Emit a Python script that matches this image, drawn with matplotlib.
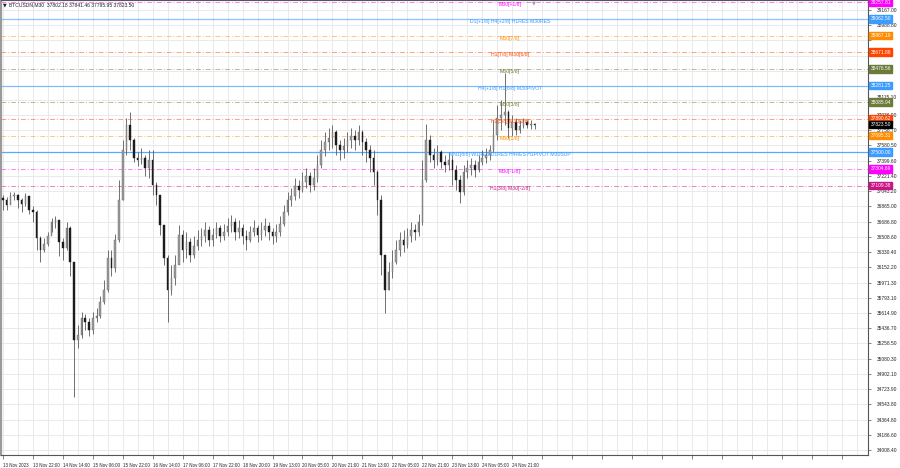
import matplotlib
matplotlib.use("Agg")
import matplotlib.pyplot as plt
import matplotlib.transforms as mtransforms
import numpy as np

plt.rcParams['font.family'] = ['Liberation Sans', 'DejaVu Sans']

# ---------------- data ----------------
header_text = "BTCUSDN,M30  37802.18 37841.46 37795.95 37823.50"

first_open = 36960.0
close = [36940, 36881, 36987, 36999, 36940, 36893, 36987, 36823, 36799, 36495,
         36354, 36424, 36518, 36682, 36706, 36448, 36377, 36612, 36213, 35299,
         35358, 35557, 35510, 35416, 35557, 35580, 35745, 35885, 36260, 36143,
         36471, 36940, 37526, 37819, 37643, 37432, 37409, 37432, 37315, 37409,
         37116, 36999, 36647, 36260, 35885, 36026, 36178, 36530, 36354, 36448,
         36295, 36401, 36471, 36518, 36588, 36471, 36530, 36612, 36518, 36565,
         36635, 36682, 36565, 36612, 36518, 36471, 36565, 36612, 36530, 36588,
         36635, 36565, 36518, 36565, 36659, 36799, 36940, 36987, 37104, 37057,
         37151, 37221, 37116, 37198, 37350, 37526, 37620, 37667, 37737, 37585,
         37526, 37573, 37643, 37690, 37643, 37737, 37620, 37526, 37432, 37268,
         36940, 36295, 35885, 36096, 36213, 36354, 36471, 36413, 36518, 36588,
         36565, 36682, 37174, 37643, 37467, 37409, 37503, 37385, 37350, 37409,
         37292, 37174, 37034, 37268, 37315, 37350, 37292, 37385, 37432, 37467,
         37526, 37702, 37901, 37936, 37971, 37784, 37854, 37760, 37807, 37854,
         37819, 37831, 37823.5]
high = [36999, 36975, 37034, 37034, 37010, 36963, 37022, 36987, 36870, 36823,
        36518, 36495, 36565, 36729, 36752, 36682, 36495, 36682, 36635, 36213,
        35475, 35627, 35604, 35557, 35627, 35674, 35815, 36002, 36354, 36354,
        36542, 37174, 37643, 37901, 37971, 37667, 37503, 37549, 37467, 37526,
        37526, 37151, 36999, 36647, 36295, 36178, 36295, 36647, 36588, 36565,
        36495, 36518, 36588, 36612, 36682, 36635, 36612, 36682, 36647, 36659,
        36729, 36764, 36729, 36706, 36659, 36588, 36635, 36706, 36647, 36682,
        36729, 36682, 36612, 36659, 36752, 36881, 37034, 37081, 37198, 37174,
        37268, 37315, 37268, 37315, 37467, 37643, 37737, 37784, 37819, 37760,
        37643, 37667, 37737, 37784, 37760, 37819, 37760, 37667, 37585, 37526,
        37292, 36999, 36295, 36213, 36354, 36471, 36565, 36588, 36612, 36682,
        36659, 36776, 37409, 37831, 37702, 37549, 37585, 37526, 37467, 37503,
        37467, 37350, 37233, 37350, 37409, 37432, 37409, 37467, 37526, 37549,
        37585, 37878, 38053, 38112, 38428, 37995, 37936, 37901, 37878, 37901,
        37878, 37878, 37842]
low = [36823, 36823, 36917, 36940, 36846, 36799, 36870, 36776, 36682, 36354,
       36213, 36331, 36401, 36565, 36612, 36284, 36237, 36354, 36049, 34631,
       35205, 35323, 35416, 35346, 35370, 35510, 35557, 35721, 35862, 36049,
       36096, 36448, 36940, 37467, 37526, 37385, 37338, 37362, 37221, 37198,
       36999, 36881, 36530, 36178, 35510, 35827, 35944, 36237, 36213, 36260,
       36213, 36260, 36354, 36401, 36448, 36401, 36401, 36495, 36448, 36471,
       36518, 36565, 36471, 36495, 36424, 36354, 36448, 36518, 36448, 36471,
       36518, 36471, 36424, 36448, 36518, 36635, 36764, 36870, 36940, 36963,
       37034, 37081, 37034, 37057, 37151, 37315, 37456, 37526, 37549, 37467,
       37409, 37432, 37503, 37549, 37526, 37585, 37467, 37385, 37268, 37116,
       36764, 36061, 35616, 35885, 36026, 36190, 36284, 36331, 36377, 36448,
       36471, 36518, 36647, 37151, 37385, 37315, 37350, 37315, 37268, 37292,
       37116, 37057, 36905, 36999, 37198, 37233, 37210, 37268, 37350, 37374,
       37409, 37503, 37643, 37760, 37819, 37667, 37690, 37702, 37725, 37784,
       37784, 37772, 37772]

time_labels = ["13 Nov 2023", "13 Nov 22:00", "14 Nov 14:00", "15 Nov 06:00",
               "15 Nov 22:00", "16 Nov 14:00", "17 Nov 06:00", "17 Nov 22:00",
               "18 Nov 20:00", "19 Nov 13:00", "20 Nov 05:00", "20 Nov 21:00",
               "21 Nov 13:00", "22 Nov 05:00", "22 Nov 21:00", "23 Nov 13:00",
               "24 Nov 05:00", "24 Nov 21:00"]

# grid rows of the price scale (all drawn as grid lines)
price_grid = [39167.00, 38988.80, 38810.60, 38632.40, 38454.20, 38276.00,
              38115.10, 37936.90, 37758.70, 37580.50, 37399.60, 37221.40,
              37043.20, 36865.00, 36686.80, 36508.60, 36330.40, 36152.20,
              35971.30, 35793.10, 35614.90, 35436.70, 35258.50, 35080.30,
              34902.10, 34723.90, 34543.80, 34364.80, 34186.60, 34008.40]
# which of them show a label (others are covered by the level boxes)
price_label_shown = [True, True, False, False, False, False,
                     True, True, True, True, True, True,
                     True, True, True, True, True, True,
                     True, True, True, True, True, True,
                     True, True, True, True, True, True]

levels = [39257.81, 39062.50, 38867.19, 38671.88, 38476.56, 38281.25,
          38085.94, 37890.62, 37695.31, 37500.00, 37304.69, 37109.38]
level_names = ["M30[+1/8]", "D1[+1/8] H4[+2/8] H1RES M30RES", "M30[7/8]",
               "H1[7/8] M30[6/8]", "M30[5/8]", "H4[+1/8] H1[6/8] M30PIVOT",
               "M30[3/8]", "H1[5/8] M30[2/8]", "M30[1/8]",
               "MN1[8/8] W1RES D1RES H4RES H1PIVOT M30SUP", "M30[-1/8]",
               "H1[3/8] M30[-2/8]"]
level_colors = ["#FF00FF", "#3C9BFF", "#FF8C00", "#FF4500", "#6B7B3A", "#3C9BFF",
                "#6B7B3A", "#FF4500", "#FF8C00", "#3C9BFF", "#FF00FF", "#C71585"]
level_solid = [False, True, False, False, False, True,
               False, False, False, True, False, False]
last_price = 37823.50

# ---------------- figure ----------------
W, H = 900, 468
fig = plt.figure(figsize=(W / 100, H / 100), dpi=100)
plot_w, plot_h = 868, 455
ax = fig.add_axes([1 / W, (H - plot_h) / H, (plot_w - 1) / W, plot_h / H])

n = len(close)
x = np.arange(n)
c = np.array(close, dtype=float)
o = np.concatenate([[first_open], c[:-1]])
hi = np.array(high, dtype=float)
lo = np.array(low, dtype=float)

# grid
ax.set_axisbelow(True)
ax.set_xticks(np.arange(0, 232, 8))
ax.set_xticks(np.arange(4, 232, 8), minor=True)
ax.grid(True, which='both', axis='x', color='#e6e6e6', lw=0.6)
ax.grid(True, which='major', axis='y', color='#e6e6e6', lw=0.6)

# level lines
for lvl, col, solid in zip(levels, level_colors, level_solid):
    if solid:
        ax.axhline(lvl, color=col, lw=0.9, alpha=0.6 if lvl != 37500.00 else 0.85,
                   zorder=1)
    else:
        ax.axhline(lvl, color=col, lw=0.7, alpha=0.5, ls=(0, (5, 2, 1, 2)), zorder=1)

# candles
ax.vlines(x, lo, hi, color='#5a5a5a', lw=0.6, zorder=3)
up = c >= o
body_h = np.maximum(np.abs(c - o), 5)
body_b = np.minimum(o, c)
ax.bar(x[up], body_h[up], bottom=body_b[up], width=0.42, color='#9a9a9a',
       edgecolor='#6a6a6a', lw=0.3, zorder=4)
ax.bar(x[~up], body_h[~up], bottom=body_b[~up], width=0.42, color='#1c1c1c',
       edgecolor='#1c1c1c', lw=0.3, zorder=4)

# level labels in chart
text_x = 135.4
for lvl, name, col in zip(levels, level_names, level_colors):
    ax.text(text_x, lvl, name, ha='center', va='top', fontsize=3.7, color=col,
            zorder=6)

# axes limits
y_top = 39284.0
y_bot = 39284.0 - 11.72 * 455
ax.set_xlim(-0.5, 231)
ax.set_ylim(y_bot, y_top)

# x tick labels
xt_labels = time_labels + [""] * (len(ax.get_xticks()) - len(time_labels))
ax.set_xticklabels(xt_labels, fontsize=3.25, ha='left', color='#222222')
ax.tick_params(axis='x', which='major', length=3, width=0.5, pad=2.5,
               color='#555555')
ax.tick_params(axis='x', which='minor', length=0)

# y ticks on right
ax.yaxis.tick_right()
ax.set_yticks(price_grid)
ax.set_yticklabels([f"{v:.2f}" if s else "" for v, s in
                    zip(price_grid, price_label_shown)], fontsize=3.5,
                   color='#222222')
ax.tick_params(axis='y', length=2.5, width=0.5, pad=4, color='#555555')
for lab in ax.get_yticklabels():
    if lab.get_text() == "38115.10":
        lab.set_va('bottom')

# spines
for s in ['top', 'right', 'bottom']:
    ax.spines[s].set_color('#555555')
    ax.spines[s].set_linewidth(0.8)
ax.spines['left'].set_color('#9a9a9a')
ax.spines['left'].set_linewidth(1.6)

# price boxes on right axis
trans = mtransforms.blended_transform_factory(ax.transAxes, ax.transData)
box_vals = levels + [last_price]
box_cols = level_colors + ['#000000']
for val, col in zip(box_vals, box_cols):
    ax.text(1.003, val, f"{val:.2f}", transform=trans, ha='left', va='center',
            fontsize=3.5, color='white', clip_on=False, zorder=10,
            bbox=dict(boxstyle='square,pad=0.28', fc=col, ec=col))

# header
fig.text(3 / W, 1 - 5 / H, "\u25BC", fontsize=3.5, color='#222222',
         va='center', ha='left', family='DejaVu Sans')
fig.text(9 / W, 1 - 5 / H, header_text, fontsize=3.6, color='#222222',
         va='center', ha='left')
# chart shift marker
ax.text(533 / plot_w, 1.0, "\u25BC", transform=ax.transAxes, fontsize=3.5,
        color='#9a9a9a', ha='center', va='top', family='DejaVu Sans')

fig.savefig("out.png", dpi=100, facecolor='white')
